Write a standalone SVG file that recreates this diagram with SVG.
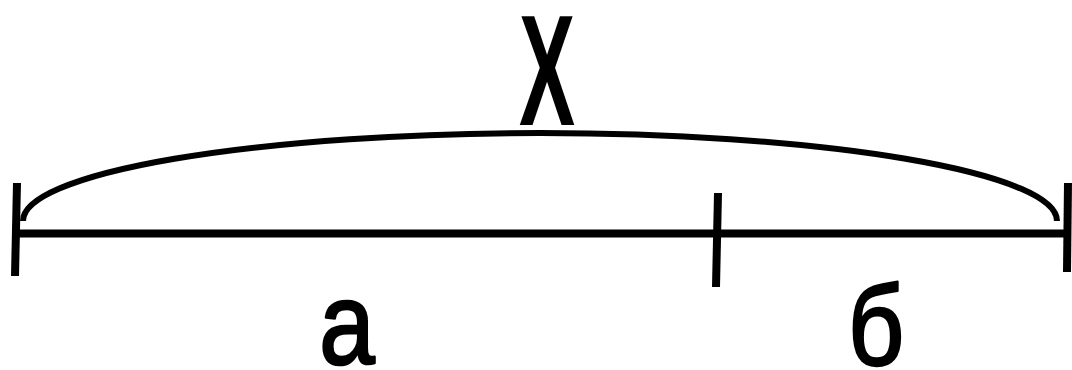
<svg xmlns="http://www.w3.org/2000/svg" width="1072" height="370" viewBox="0 0 1072 370">
<style>
.ln{stroke:#000;fill:none;stroke-linecap:butt}
.lbl{font-family:"Liberation Sans",Arial,sans-serif;fill:#000;text-anchor:middle}
.sm{stroke:#000;stroke-width:2.6;stroke-linejoin:round}
</style>
<rect width="1072" height="370" fill="#fff"/>
<g id="segment">
<line class="ln" x1="18" y1="233.5" x2="1066" y2="233.5" stroke-width="8"/>
<line class="ln" x1="17" y1="183" x2="15" y2="276" stroke-width="8"/>
<line class="ln" x1="718" y1="193" x2="716" y2="287" stroke-width="8"/>
<line class="ln" x1="1068" y1="183" x2="1067" y2="272" stroke-width="8"/>
</g>
<g id="brace">
<path class="ln" d="M23,221 A517,88 0 0 1 1057,221" stroke-width="6"/>
</g>
<g id="labels">
<text class="lbl" font-size="100" font-weight="bold" transform="translate(547,125) scale(0.84,1.58)">X</text>
<text class="lbl sm" font-size="116" transform="translate(347,364) scale(0.86,1)">а</text>
<text class="lbl sm" font-size="114" transform="translate(876,365) scale(0.86,1)">б</text>
</g>
</svg>
